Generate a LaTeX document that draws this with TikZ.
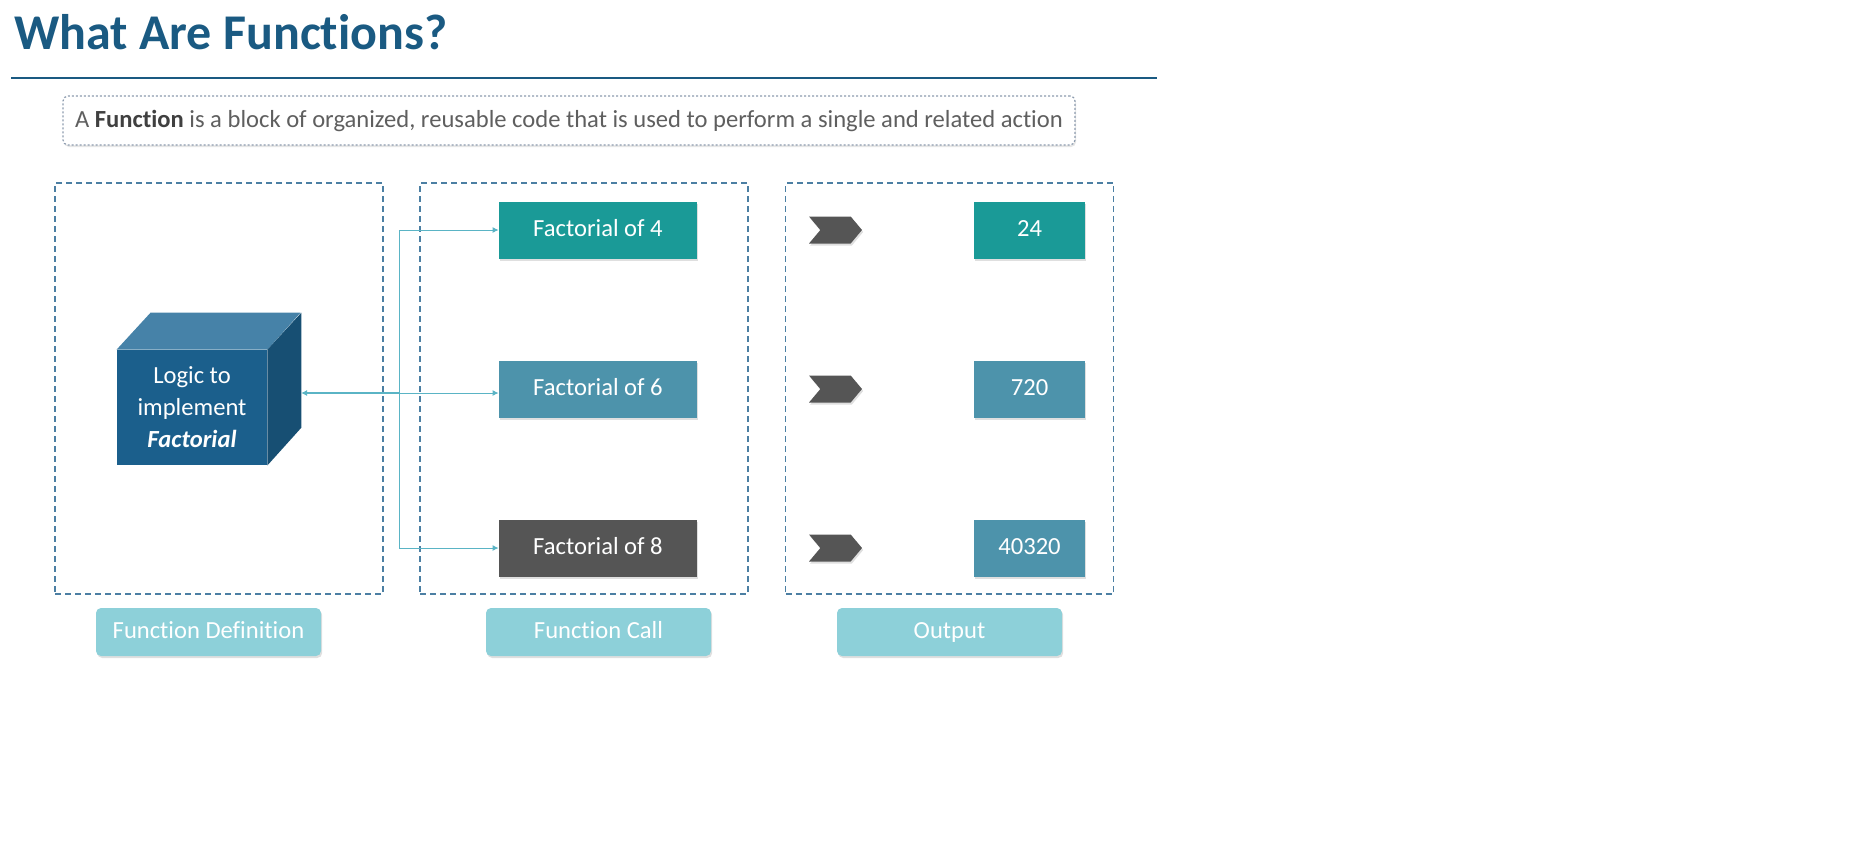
\documentclass[tikz,border=0pt]{standalone}
\usepackage{fontspec}
\setmainfont{Carlito}[Ligatures=NoCommon]
\usepackage{tikz}
\usetikzlibrary{arrows.meta}
\usetikzlibrary{shapes.symbols,shadows}
\tikzset{>={Latex[width=3pt,length=3pt]}}
\definecolor{titleblue}{HTML}{1A5A82}
\definecolor{panelblue}{HTML}{4C7FA3}
\definecolor{tealbox}{HTML}{1A9A97}
\definecolor{steelbox}{HTML}{4D93AB}
\definecolor{greybox}{HTML}{555555}
\definecolor{tagcyan}{HTML}{8DD0D9}
\definecolor{linkcyan}{HTML}{5AB4C5}
\definecolor{cubefront}{HTML}{1B5F8C}
\definecolor{cubetop}{HTML}{4682A8}
\definecolor{cubeside}{HTML}{174F73}
\definecolor{noteedge}{HTML}{8C9BAE}
\definecolor{notetext}{HTML}{5F5F5F}
\newcommand{\BODY}{\fontsize{12.3}{14}\selectfont}

\tikzset{
  panel/.style={draw=panelblue, line width=0.8pt, dash pattern=on 3pt off 2pt,
    minimum width=164pt, minimum height=205.5pt, inner sep=0pt},
  callbox/.style={text=white, font=\BODY, minimum width=99pt,
    minimum height=28.5pt, inner sep=0pt, text height=1.6ex, text depth=0.15ex,
    drop shadow={opacity=0.25, shadow xshift=0.6pt, shadow yshift=-1pt}},
  outbox/.style={callbox, minimum width=55.5pt},
  chevron/.style={signal, signal from=west, signal to=east,
    signal pointer angle=100, fill=greybox, minimum width=26.5pt,
    minimum height=13.5pt, inner sep=0pt,
    drop shadow={opacity=0.25, shadow xshift=0.6pt, shadow yshift=-1pt}},
  tagbox/.style={fill=tagcyan, text=white, rounded corners=2.5pt, font=\BODY,
    minimum width=112.5pt, minimum height=24pt, inner sep=0pt,
    text height=1.6ex, text depth=0.15ex,
    drop shadow={opacity=0.25, shadow xshift=0.6pt, shadow yshift=-1pt}},
  link/.style={draw=linkcyan, line width=0.5pt},
}

\begin{document}
\begin{tikzpicture}[x=0.5pt, y=-0.5pt]

  \useasboundingbox (0,0) rectangle (1851,848);

  %% heading
  \node[anchor=base west, inner sep=0pt, text=titleblue,
    font=\fontsize{25}{30}\selectfont\bfseries] (title) at (14,49)
    {What Are Functions?};
  \draw[titleblue, line width=1.3pt] (11,78) -- (1157,78);

  \node[draw=noteedge, line width=0.6pt, dash pattern=on 1pt off 1pt,
    rounded corners=2.5pt, fill=white, minimum width=506pt,
    minimum height=24.5pt, inner sep=0pt, text=notetext,
    font=\fontsize{12.3}{14}\selectfont,
    drop shadow={opacity=0.2, shadow xshift=0.5pt, shadow yshift=-1pt}]
    (note) at (569,120.5)
    {A \textbf{\color{darkgray}Function} is a block of organized, reusable code
     that is used to perform a single and related action};

  %% dashed panels
  \node[panel] (defpanel)  at (219,388.5) {};
  \node[panel] (callpanel) at (584,388.5) {};
  \node[panel] (outpanel)  at (949.5,388.5) {};

  %% cube
  \node[fill=cubefront, text=white, font=\BODY, align=center,
    minimum width=75pt, minimum height=57.5pt, inner sep=0pt] (logic)
    at (192,407.5) {Logic to\\[2pt] implement\\[2pt] \textbf{\textit{Factorial}}};
  \fill[cubetop] (logic.north west) -- ++(34,-37) -- ++(150,0)
    -- (logic.north east) -- cycle;
  \fill[cubeside] (logic.north east) -- ++(34,-37) -- ++(0,115)
    -- (logic.south east) -- cycle;

  %% calls
  \node[callbox, fill=tealbox]  (fact4) at (598,230) {Factorial of 4};
  \node[callbox, fill=steelbox] (fact6) at (598,389) {Factorial of 6};
  \node[callbox, fill=greybox]  (fact8) at (598,548) {Factorial of 8};

  %% outputs
  \node[chevron] (chev4) at (835.5,230) {};
  \node[chevron] (chev6) at (835.5,389) {};
  \node[chevron] (chev8) at (835.5,548) {};
  \node[outbox, fill=tealbox]  (out24)    at (1029.5,230) {24};
  \node[outbox, fill=steelbox] (out720)   at (1029.5,389) {720};
  \node[outbox, fill=steelbox] (out40320) at (1029.5,548) {40320};

  %% links
  \coordinate (cubeedge) at (301,393);
  \coordinate (bus) at (399,393);
  \draw[link, line width=1pt, <-] (cubeedge) -- (bus);
  \draw[link, ->] (bus) -- (bus -| fact6.west);
  \draw[link, ->] (bus) |- (fact4.west);
  \draw[link, ->] (bus) |- (fact8.west);

  %% captions
  \node[tagbox] (deftag)  at (208.5,632) {Function Definition};
  \node[tagbox] (calltag) at (598.5,632) {Function Call};
  \node[tagbox] (outtag)  at (949.5,632) {Output};

\end{tikzpicture}
\end{document}
